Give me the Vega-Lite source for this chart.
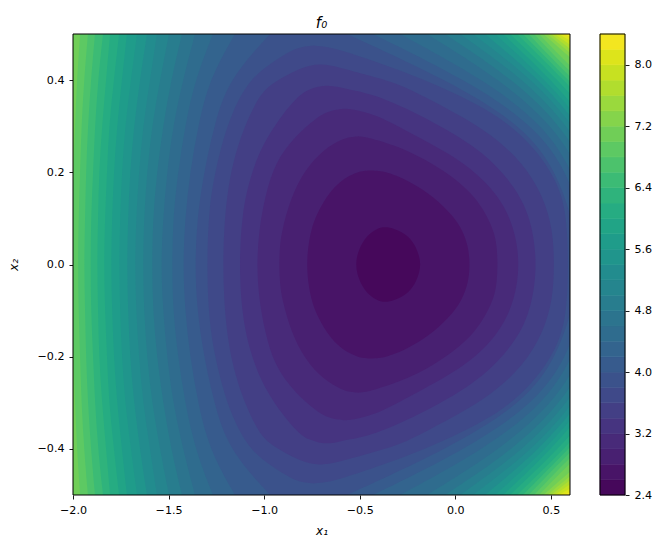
{"$schema":"https://vega.github.io/schema/vega-lite/v6.json","background":"white","autosize":{"type":"pad"},"padding":{"left":7,"top":15,"right":0,"bottom":0},"config":{"view":{"stroke":null},"font":"DejaVu Sans","axis":{"labelFont":"DejaVu Sans","titleFont":"DejaVu Sans","labelFontSize":11.1,"titleFontSize":12,"labelColor":"black","titleColor":"black","tickColor":"black","domainColor":"black","tickSize":4,"tickWidth":0.9,"grid":false,"domain":false,"titleFontWeight":"normal","labelPadding":5,"labelFlush":false}},"spacing":28,"hconcat":[{"width":497,"height":461,"title":{"text":"f₀","font":"DejaVu Sans","fontSize":15,"fontStyle":"italic","fontWeight":"normal","color":"black","offset":3},"layer":[{"data":{"values":[
{"m":8.3,"y":-0.5,"a":-2.1,"b":0.7},{"m":8.3,"y":0.5,"a":-2.1,"b":0.7},
{"m":8.1,"y":-0.5,"a":-2.1,"b":0.563},{"m":8.1,"y":-0.4,"a":-2.1,"b":1.18},{"m":8.1,"y":-0.3,"a":-2.1,"b":1.8},{"m":8.1,"y":-0.2,"a":-2.1,"b":2.0},{"m":8.1,"y":-0.1,"a":-2.1,"b":2.1},{"m":8.1,"y":0,"a":-2.1,"b":2.2},{"m":8.1,"y":0.1,"a":-2.1,"b":2.1},{"m":8.1,"y":0.2,"a":-2.1,"b":2.0},{"m":8.1,"y":0.3,"a":-2.1,"b":1.8},{"m":8.1,"y":0.4,"a":-2.1,"b":1.18},{"m":8.1,"y":0.5,"a":-2.1,"b":0.563},
{"m":7.9,"y":-0.5,"a":-2.1,"b":0.54},{"m":7.9,"y":-0.4,"a":-2.1,"b":0.97},{"m":7.9,"y":-0.3,"a":-2.1,"b":1.4},{"m":7.9,"y":-0.2,"a":-2.1,"b":1.6},{"m":7.9,"y":-0.1,"a":-2.1,"b":1.7},{"m":7.9,"y":0,"a":-2.1,"b":1.8},{"m":7.9,"y":0.1,"a":-2.1,"b":1.7},{"m":7.9,"y":0.2,"a":-2.1,"b":1.6},{"m":7.9,"y":0.3,"a":-2.1,"b":1.4},{"m":7.9,"y":0.4,"a":-2.1,"b":0.97},{"m":7.9,"y":0.5,"a":-2.1,"b":0.54},
{"m":7.7,"y":-0.5,"a":-2.1,"b":0.519},{"m":7.7,"y":-0.4,"a":-2.1,"b":0.87},{"m":7.7,"y":-0.3,"a":-2.1,"b":1.25},{"m":7.7,"y":-0.2,"a":-2.1,"b":1.45},{"m":7.7,"y":-0.1,"a":-2.1,"b":1.55},{"m":7.7,"y":0,"a":-2.1,"b":1.6},{"m":7.7,"y":0.1,"a":-2.1,"b":1.55},{"m":7.7,"y":0.2,"a":-2.1,"b":1.45},{"m":7.7,"y":0.3,"a":-2.1,"b":1.25},{"m":7.7,"y":0.4,"a":-2.1,"b":0.87},{"m":7.7,"y":0.5,"a":-2.1,"b":0.519},
{"m":7.5,"y":-0.5,"a":-2.1,"b":0.501},{"m":7.5,"y":-0.4,"a":-2.1,"b":0.81},{"m":7.5,"y":-0.3,"a":-2.1,"b":1.15},{"m":7.5,"y":-0.2,"a":-2.1,"b":1.35},{"m":7.5,"y":-0.1,"a":-2.1,"b":1.45},{"m":7.5,"y":0,"a":-2.1,"b":1.5},{"m":7.5,"y":0.1,"a":-2.1,"b":1.45},{"m":7.5,"y":0.2,"a":-2.1,"b":1.35},{"m":7.5,"y":0.3,"a":-2.1,"b":1.15},{"m":7.5,"y":0.4,"a":-2.1,"b":0.81},{"m":7.5,"y":0.5,"a":-2.1,"b":0.501},
{"m":7.3,"y":-0.5,"a":-2.1,"b":0.482},{"m":7.3,"y":-0.4,"a":-2.1,"b":0.77},{"m":7.3,"y":-0.3,"a":-2.1,"b":1.1},{"m":7.3,"y":-0.2,"a":-2.1,"b":1.3},{"m":7.3,"y":-0.1,"a":-2.1,"b":1.4},{"m":7.3,"y":0,"a":-2.1,"b":1.45},{"m":7.3,"y":0.1,"a":-2.1,"b":1.4},{"m":7.3,"y":0.2,"a":-2.1,"b":1.3},{"m":7.3,"y":0.3,"a":-2.1,"b":1.1},{"m":7.3,"y":0.4,"a":-2.1,"b":0.77},{"m":7.3,"y":0.5,"a":-2.1,"b":0.482},
{"m":7.1,"y":-0.5,"a":-2.0,"b":0.461},{"m":7.1,"y":-0.4,"a":-2.016,"b":0.734},{"m":7.1,"y":-0.3,"a":-2.021,"b":1.05},{"m":7.1,"y":-0.2,"a":-2.026,"b":1.25},{"m":7.1,"y":-0.1,"a":-2.03,"b":1.35},{"m":7.1,"y":0,"a":-2.04,"b":1.4},{"m":7.1,"y":0.1,"a":-2.03,"b":1.35},{"m":7.1,"y":0.2,"a":-2.026,"b":1.25},{"m":7.1,"y":0.3,"a":-2.021,"b":1.05},{"m":7.1,"y":0.4,"a":-2.016,"b":0.734},{"m":7.1,"y":0.5,"a":-2.0,"b":0.461},
{"m":6.9,"y":-0.5,"a":-1.963,"b":0.438},{"m":6.9,"y":-0.4,"a":-1.979,"b":0.67},{"m":6.9,"y":-0.3,"a":-1.99,"b":0.97},{"m":6.9,"y":-0.2,"a":-1.997,"b":1.2},{"m":6.9,"y":-0.1,"a":-2.003,"b":1.3},{"m":6.9,"y":0,"a":-2.005,"b":1.35},{"m":6.9,"y":0.1,"a":-2.003,"b":1.3},{"m":6.9,"y":0.2,"a":-1.997,"b":1.2},{"m":6.9,"y":0.3,"a":-1.99,"b":0.97},{"m":6.9,"y":0.4,"a":-1.979,"b":0.67},{"m":6.9,"y":0.5,"a":-1.963,"b":0.438},
{"m":6.7,"y":-0.5,"a":-1.922,"b":0.412},{"m":6.7,"y":-0.4,"a":-1.942,"b":0.64},{"m":6.7,"y":-0.3,"a":-1.956,"b":0.92},{"m":6.7,"y":-0.2,"a":-1.963,"b":1.12},{"m":6.7,"y":-0.1,"a":-1.971,"b":1.24},{"m":6.7,"y":0,"a":-1.974,"b":1.3},{"m":6.7,"y":0.1,"a":-1.971,"b":1.24},{"m":6.7,"y":0.2,"a":-1.963,"b":1.12},{"m":6.7,"y":0.3,"a":-1.956,"b":0.92},{"m":6.7,"y":0.4,"a":-1.942,"b":0.64},{"m":6.7,"y":0.5,"a":-1.922,"b":0.412},
{"m":6.5,"y":-0.5,"a":-1.885,"b":0.383},{"m":6.5,"y":-0.4,"a":-1.906,"b":0.615},{"m":6.5,"y":-0.3,"a":-1.922,"b":0.87},{"m":6.5,"y":-0.2,"a":-1.932,"b":1.05},{"m":6.5,"y":-0.1,"a":-1.937,"b":1.17},{"m":6.5,"y":0,"a":-1.942,"b":1.22},{"m":6.5,"y":0.1,"a":-1.937,"b":1.17},{"m":6.5,"y":0.2,"a":-1.932,"b":1.05},{"m":6.5,"y":0.3,"a":-1.922,"b":0.87},{"m":6.5,"y":0.4,"a":-1.906,"b":0.615},{"m":6.5,"y":0.5,"a":-1.885,"b":0.383},
{"m":6.3,"y":-0.5,"a":-1.843,"b":0.354},{"m":6.3,"y":-0.4,"a":-1.869,"b":0.59},{"m":6.3,"y":-0.3,"a":-1.885,"b":0.83},{"m":6.3,"y":-0.2,"a":-1.895,"b":1.0},{"m":6.3,"y":-0.1,"a":-1.906,"b":1.11},{"m":6.3,"y":0,"a":-1.908,"b":1.16},{"m":6.3,"y":0.1,"a":-1.906,"b":1.11},{"m":6.3,"y":0.2,"a":-1.895,"b":1.0},{"m":6.3,"y":0.3,"a":-1.885,"b":0.83},{"m":6.3,"y":0.4,"a":-1.869,"b":0.59},{"m":6.3,"y":0.5,"a":-1.843,"b":0.354},
{"m":6.1,"y":-0.5,"a":-1.806,"b":0.323},{"m":6.1,"y":-0.4,"a":-1.827,"b":0.57},{"m":6.1,"y":-0.3,"a":-1.848,"b":0.79},{"m":6.1,"y":-0.2,"a":-1.864,"b":0.96},{"m":6.1,"y":-0.1,"a":-1.869,"b":1.07},{"m":6.1,"y":0,"a":-1.874,"b":1.12},{"m":6.1,"y":0.1,"a":-1.869,"b":1.07},{"m":6.1,"y":0.2,"a":-1.864,"b":0.96},{"m":6.1,"y":0.3,"a":-1.848,"b":0.79},{"m":6.1,"y":0.4,"a":-1.827,"b":0.57},{"m":6.1,"y":0.5,"a":-1.806,"b":0.323},
{"m":5.9,"y":-0.5,"a":-1.759,"b":0.286},{"m":5.9,"y":-0.4,"a":-1.786,"b":0.54},{"m":5.9,"y":-0.3,"a":-1.812,"b":0.75},{"m":5.9,"y":-0.2,"a":-1.822,"b":0.92},{"m":5.9,"y":-0.1,"a":-1.833,"b":1.03},{"m":5.9,"y":0,"a":-1.838,"b":1.08},{"m":5.9,"y":0.1,"a":-1.833,"b":1.03},{"m":5.9,"y":0.2,"a":-1.822,"b":0.92},{"m":5.9,"y":0.3,"a":-1.812,"b":0.75},{"m":5.9,"y":0.4,"a":-1.786,"b":0.54},{"m":5.9,"y":0.5,"a":-1.759,"b":0.286},
{"m":5.7,"y":-0.5,"a":-1.718,"b":0.25},{"m":5.7,"y":-0.4,"a":-1.744,"b":0.505},{"m":5.7,"y":-0.3,"a":-1.77,"b":0.71},{"m":5.7,"y":-0.2,"a":-1.786,"b":0.88},{"m":5.7,"y":-0.1,"a":-1.796,"b":0.99},{"m":5.7,"y":0,"a":-1.801,"b":1.04},{"m":5.7,"y":0.1,"a":-1.796,"b":0.99},{"m":5.7,"y":0.2,"a":-1.786,"b":0.88},{"m":5.7,"y":0.3,"a":-1.77,"b":0.71},{"m":5.7,"y":0.4,"a":-1.744,"b":0.505},{"m":5.7,"y":0.5,"a":-1.718,"b":0.25},
{"m":5.5,"y":-0.5,"a":-1.665,"b":0.208},{"m":5.5,"y":-0.4,"a":-1.697,"b":0.475},{"m":5.5,"y":-0.3,"a":-1.728,"b":0.68},{"m":5.5,"y":-0.2,"a":-1.744,"b":0.84},{"m":5.5,"y":-0.1,"a":-1.754,"b":0.95},{"m":5.5,"y":0,"a":-1.759,"b":1.0},{"m":5.5,"y":0.1,"a":-1.754,"b":0.95},{"m":5.5,"y":0.2,"a":-1.744,"b":0.84},{"m":5.5,"y":0.3,"a":-1.728,"b":0.68},{"m":5.5,"y":0.4,"a":-1.697,"b":0.475},{"m":5.5,"y":0.5,"a":-1.665,"b":0.208},
{"m":5.3,"y":-0.5,"a":-1.613,"b":0.155},{"m":5.3,"y":-0.4,"a":-1.65,"b":0.445},{"m":5.3,"y":-0.3,"a":-1.681,"b":0.65},{"m":5.3,"y":-0.2,"a":-1.702,"b":0.81},{"m":5.3,"y":-0.1,"a":-1.712,"b":0.91},{"m":5.3,"y":0,"a":-1.718,"b":0.97},{"m":5.3,"y":0.1,"a":-1.712,"b":0.91},{"m":5.3,"y":0.2,"a":-1.702,"b":0.81},{"m":5.3,"y":0.3,"a":-1.681,"b":0.65},{"m":5.3,"y":0.4,"a":-1.65,"b":0.445},{"m":5.3,"y":0.5,"a":-1.613,"b":0.155},
{"m":5.1,"y":-0.5,"a":-1.561,"b":0.093},{"m":5.1,"y":-0.4,"a":-1.597,"b":0.41},{"m":5.1,"y":-0.3,"a":-1.634,"b":0.62},{"m":5.1,"y":-0.2,"a":-1.655,"b":0.78},{"m":5.1,"y":-0.1,"a":-1.67,"b":0.87},{"m":5.1,"y":0,"a":-1.676,"b":0.94},{"m":5.1,"y":0.1,"a":-1.67,"b":0.87},{"m":5.1,"y":0.2,"a":-1.655,"b":0.78},{"m":5.1,"y":0.3,"a":-1.634,"b":0.62},{"m":5.1,"y":0.4,"a":-1.597,"b":0.41},{"m":5.1,"y":0.5,"a":-1.561,"b":0.093},
{"m":4.9,"y":-0.5,"a":-1.498,"b":0.025},{"m":4.9,"y":-0.4,"a":-1.545,"b":0.365},{"m":4.9,"y":-0.3,"a":-1.587,"b":0.59},{"m":4.9,"y":-0.2,"a":-1.613,"b":0.74},{"m":4.9,"y":-0.1,"a":-1.629,"b":0.83},{"m":4.9,"y":0,"a":-1.634,"b":0.9},{"m":4.9,"y":0.1,"a":-1.629,"b":0.83},{"m":4.9,"y":0.2,"a":-1.613,"b":0.74},{"m":4.9,"y":0.3,"a":-1.587,"b":0.59},{"m":4.9,"y":0.4,"a":-1.545,"b":0.365},{"m":4.9,"y":0.5,"a":-1.498,"b":0.025},
{"m":4.7,"y":-0.5,"a":-1.43,"b":-0.054},{"m":4.7,"y":-0.4,"a":-1.487,"b":0.31},{"m":4.7,"y":-0.3,"a":-1.529,"b":0.555},{"m":4.7,"y":-0.2,"a":-1.561,"b":0.7},{"m":4.7,"y":-0.1,"a":-1.582,"b":0.79},{"m":4.7,"y":0,"a":-1.587,"b":0.86},{"m":4.7,"y":0.1,"a":-1.582,"b":0.79},{"m":4.7,"y":0.2,"a":-1.561,"b":0.7},{"m":4.7,"y":0.3,"a":-1.529,"b":0.555},{"m":4.7,"y":0.4,"a":-1.487,"b":0.31},{"m":4.7,"y":0.5,"a":-1.43,"b":-0.054},
{"m":4.5,"y":-0.5,"a":-1.362,"b":-0.148},{"m":4.5,"y":-0.4,"a":-1.425,"b":0.24},{"m":4.5,"y":-0.3,"a":-1.477,"b":0.515},{"m":4.5,"y":-0.2,"a":-1.508,"b":0.66},{"m":4.5,"y":-0.1,"a":-1.529,"b":0.75},{"m":4.5,"y":0,"a":-1.54,"b":0.82},{"m":4.5,"y":0.1,"a":-1.529,"b":0.75},{"m":4.5,"y":0.2,"a":-1.508,"b":0.66},{"m":4.5,"y":0.3,"a":-1.477,"b":0.515},{"m":4.5,"y":0.4,"a":-1.425,"b":0.24},{"m":4.5,"y":0.5,"a":-1.362,"b":-0.148},
{"m":4.3,"y":-0.5,"a":-1.268,"b":-0.289},{"m":4.3,"y":-0.4,"a":-1.362,"b":0.155},{"m":4.3,"y":-0.3,"a":-1.414,"b":0.47},{"m":4.3,"y":-0.2,"a":-1.451,"b":0.615},{"m":4.3,"y":-0.1,"a":-1.477,"b":0.71},{"m":4.3,"y":0,"a":-1.482,"b":0.77},{"m":4.3,"y":0.1,"a":-1.477,"b":0.71},{"m":4.3,"y":0.2,"a":-1.451,"b":0.615},{"m":4.3,"y":0.3,"a":-1.414,"b":0.47},{"m":4.3,"y":0.4,"a":-1.362,"b":0.155},{"m":4.3,"y":0.5,"a":-1.268,"b":-0.289},
{"m":4.1,"y":-0.5,"a":-1.153,"b":-0.431},{"m":4.1,"y":-0.4,"a":-1.289,"b":0.06},{"m":4.1,"y":-0.3,"a":-1.346,"b":0.42},{"m":4.1,"y":-0.2,"a":-1.388,"b":0.585},{"m":4.1,"y":-0.1,"a":-1.414,"b":0.66},{"m":4.1,"y":0,"a":-1.425,"b":0.72},{"m":4.1,"y":0.1,"a":-1.414,"b":0.66},{"m":4.1,"y":0.2,"a":-1.388,"b":0.585},{"m":4.1,"y":0.3,"a":-1.346,"b":0.42},{"m":4.1,"y":0.4,"a":-1.289,"b":0.06},{"m":4.1,"y":0.5,"a":-1.153,"b":-0.431},
{"m":3.9,"y":-0.5,"a":-0.969,"b":-0.567},{"m":3.9,"y":-0.4,"a":-1.189,"b":-0.04},{"m":3.9,"y":-0.3,"a":-1.262,"b":0.36},{"m":3.9,"y":-0.2,"a":-1.315,"b":0.53},{"m":3.9,"y":-0.1,"a":-1.351,"b":0.61},{"m":3.9,"y":0,"a":-1.362,"b":0.66},{"m":3.9,"y":0.1,"a":-1.351,"b":0.61},{"m":3.9,"y":0.2,"a":-1.315,"b":0.53},{"m":3.9,"y":0.3,"a":-1.262,"b":0.36},{"m":3.9,"y":0.4,"a":-1.189,"b":-0.04},{"m":3.9,"y":0.5,"a":-0.969,"b":-0.567},
{"m":3.7,"y":-0.475,"a":-0.743,"b":-0.743},{"m":3.7,"y":-0.4726,"a":-0.799,"b":-0.676},{"m":3.7,"y":-0.4655,"a":-0.854,"b":-0.603},{"m":3.7,"y":-0.437,"a":-0.965,"b":-0.394},{"m":3.7,"y":-0.4,"a":-1.08,"b":-0.15},{"m":3.7,"y":-0.329,"a":-1.17,"b":0.217},{"m":3.7,"y":-0.257,"a":-1.225,"b":0.408},{"m":3.7,"y":-0.184,"a":-1.265,"b":0.53},{"m":3.7,"y":-0.112,"a":-1.29,"b":0.583},{"m":3.7,"y":0,"a":-1.3,"b":0.591},{"m":3.7,"y":0.112,"a":-1.29,"b":0.583},{"m":3.7,"y":0.184,"a":-1.265,"b":0.53},{"m":3.7,"y":0.257,"a":-1.225,"b":0.408},{"m":3.7,"y":0.329,"a":-1.17,"b":0.217},{"m":3.7,"y":0.4,"a":-1.08,"b":-0.15},{"m":3.7,"y":0.437,"a":-0.965,"b":-0.394},{"m":3.7,"y":0.4655,"a":-0.854,"b":-0.603},{"m":3.7,"y":0.4726,"a":-0.799,"b":-0.676},{"m":3.7,"y":0.475,"a":-0.743,"b":-0.743},
{"m":3.5,"y":-0.434,"a":-0.708,"b":-0.708},{"m":3.5,"y":-0.432,"a":-0.759,"b":-0.65},{"m":3.5,"y":-0.425,"a":-0.81,"b":-0.585},{"m":3.5,"y":-0.415,"a":-0.86,"b":-0.5},{"m":3.5,"y":-0.393,"a":-0.96,"b":-0.3},{"m":3.5,"y":-0.365,"a":-1.03,"b":-0.167},{"m":3.5,"y":-0.293,"a":-1.11,"b":0.164},{"m":3.5,"y":-0.22,"a":-1.165,"b":0.356},{"m":3.5,"y":-0.148,"a":-1.195,"b":0.46},{"m":3.5,"y":-0.076,"a":-1.21,"b":0.51},{"m":3.5,"y":0,"a":-1.215,"b":0.518},{"m":3.5,"y":0.076,"a":-1.21,"b":0.51},{"m":3.5,"y":0.148,"a":-1.195,"b":0.46},{"m":3.5,"y":0.22,"a":-1.165,"b":0.356},{"m":3.5,"y":0.293,"a":-1.11,"b":0.164},{"m":3.5,"y":0.365,"a":-1.03,"b":-0.167},{"m":3.5,"y":0.393,"a":-0.96,"b":-0.3},{"m":3.5,"y":0.415,"a":-0.86,"b":-0.5},{"m":3.5,"y":0.425,"a":-0.81,"b":-0.585},{"m":3.5,"y":0.432,"a":-0.759,"b":-0.65},{"m":3.5,"y":0.434,"a":-0.708,"b":-0.708},
{"m":3.3,"y":-0.388,"a":-0.673,"b":-0.673},{"m":3.3,"y":-0.386,"a":-0.719,"b":-0.62},{"m":3.3,"y":-0.38,"a":-0.765,"b":-0.56},{"m":3.3,"y":-0.37,"a":-0.81,"b":-0.43},{"m":3.3,"y":-0.329,"a":-0.9,"b":-0.202},{"m":3.3,"y":-0.257,"a":-1.015,"b":0.112},{"m":3.3,"y":-0.184,"a":-1.077,"b":0.286},{"m":3.3,"y":-0.112,"a":-1.115,"b":0.391},{"m":3.3,"y":0,"a":-1.132,"b":0.434},{"m":3.3,"y":0.112,"a":-1.115,"b":0.391},{"m":3.3,"y":0.184,"a":-1.077,"b":0.286},{"m":3.3,"y":0.257,"a":-1.015,"b":0.112},{"m":3.3,"y":0.329,"a":-0.9,"b":-0.202},{"m":3.3,"y":0.37,"a":-0.81,"b":-0.43},{"m":3.3,"y":0.38,"a":-0.765,"b":-0.56},{"m":3.3,"y":0.386,"a":-0.719,"b":-0.62},{"m":3.3,"y":0.388,"a":-0.673,"b":-0.673},
{"m":3.1,"y":-0.338,"a":-0.577,"b":-0.577},{"m":3.1,"y":-0.336,"a":-0.623,"b":-0.53},{"m":3.1,"y":-0.331,"a":-0.669,"b":-0.48},{"m":3.1,"y":-0.32,"a":-0.72,"b":-0.39},{"m":3.1,"y":-0.278,"a":-0.84,"b":-0.202},{"m":3.1,"y":-0.22,"a":-0.945,"b":0.06},{"m":3.1,"y":-0.148,"a":-0.995,"b":0.234},{"m":3.1,"y":-0.076,"a":-1.027,"b":0.312},{"m":3.1,"y":0,"a":-1.039,"b":0.338},{"m":3.1,"y":0.076,"a":-1.027,"b":0.312},{"m":3.1,"y":0.148,"a":-0.995,"b":0.234},{"m":3.1,"y":0.22,"a":-0.945,"b":0.06},{"m":3.1,"y":0.278,"a":-0.84,"b":-0.202},{"m":3.1,"y":0.32,"a":-0.72,"b":-0.39},{"m":3.1,"y":0.331,"a":-0.669,"b":-0.48},{"m":3.1,"y":0.336,"a":-0.623,"b":-0.53},{"m":3.1,"y":0.338,"a":-0.577,"b":-0.577},
{"m":2.9,"y":-0.278,"a":-0.507,"b":-0.507},{"m":2.9,"y":-0.2766,"a":-0.549,"b":-0.47},{"m":2.9,"y":-0.2725,"a":-0.59,"b":-0.43},{"m":2.9,"y":-0.25,"a":-0.69,"b":-0.254},{"m":2.9,"y":-0.206,"a":-0.785,"b":-0.063},{"m":2.9,"y":-0.148,"a":-0.858,"b":0.112},{"m":2.9,"y":-0.076,"a":-0.906,"b":0.202},{"m":2.9,"y":-0.04,"a":-0.918,"b":0.217},{"m":2.9,"y":0,"a":-0.922,"b":0.222},{"m":2.9,"y":0.04,"a":-0.918,"b":0.217},{"m":2.9,"y":0.076,"a":-0.906,"b":0.202},{"m":2.9,"y":0.148,"a":-0.858,"b":0.112},{"m":2.9,"y":0.206,"a":-0.785,"b":-0.063},{"m":2.9,"y":0.25,"a":-0.69,"b":-0.254},{"m":2.9,"y":0.2725,"a":-0.59,"b":-0.43},{"m":2.9,"y":0.2766,"a":-0.549,"b":-0.47},{"m":2.9,"y":0.278,"a":-0.507,"b":-0.507},
{"m":2.7,"y":-0.204,"a":-0.446,"b":-0.446},{"m":2.7,"y":-0.203,"a":-0.479,"b":-0.4},{"m":2.7,"y":-0.2,"a":-0.512,"b":-0.36},{"m":2.7,"y":-0.19,"a":-0.567,"b":-0.29},{"m":2.7,"y":-0.175,"a":-0.616,"b":-0.22},{"m":2.7,"y":-0.148,"a":-0.674,"b":-0.115},{"m":2.7,"y":-0.105,"a":-0.73,"b":-0.01},{"m":2.7,"y":-0.076,"a":-0.753,"b":0.035},{"m":2.7,"y":-0.04,"a":-0.77,"b":0.068},{"m":2.7,"y":0,"a":-0.777,"b":0.077},{"m":2.7,"y":0.04,"a":-0.77,"b":0.068},{"m":2.7,"y":0.076,"a":-0.753,"b":0.035},{"m":2.7,"y":0.105,"a":-0.73,"b":-0.01},{"m":2.7,"y":0.148,"a":-0.674,"b":-0.115},{"m":2.7,"y":0.175,"a":-0.616,"b":-0.22},{"m":2.7,"y":0.19,"a":-0.567,"b":-0.29},{"m":2.7,"y":0.2,"a":-0.512,"b":-0.36},{"m":2.7,"y":0.203,"a":-0.479,"b":-0.4},{"m":2.7,"y":0.204,"a":-0.446,"b":-0.446},
{"m":2.5,"y":-0.081,"a":-0.368,"b":-0.368},{"m":2.5,"y":-0.0805,"a":-0.39,"b":-0.345},{"m":2.5,"y":-0.076,"a":-0.415,"b":-0.31},{"m":2.5,"y":-0.065,"a":-0.457,"b":-0.253},{"m":2.5,"y":-0.043,"a":-0.493,"b":-0.211},{"m":2.5,"y":-0.02,"a":-0.514,"b":-0.19},{"m":2.5,"y":0,"a":-0.52,"b":-0.181},{"m":2.5,"y":0.02,"a":-0.514,"b":-0.19},{"m":2.5,"y":0.043,"a":-0.493,"b":-0.211},{"m":2.5,"y":0.065,"a":-0.457,"b":-0.253},{"m":2.5,"y":0.076,"a":-0.415,"b":-0.31},{"m":2.5,"y":0.0805,"a":-0.39,"b":-0.345},{"m":2.5,"y":0.081,"a":-0.368,"b":-0.368}
]},"mark":{"type":"area","orient":"horizontal","interpolate":"basis","clip":true},"encoding":{"y":{"field":"y","type":"quantitative","scale":{"domain":[-0.5,0.5],"nice":false,"zero":false},"axis":{"title":"x₂","titleFontStyle":"italic","values":[-0.4,-0.2,0,0.2,0.4],"labelExpr":"replace(format(datum.value,'.1f'),'-','−')","titlePadding":17}},"x":{"field":"a","type":"quantitative","scale":{"domain":[-2,0.6],"nice":false,"zero":false},"axis":{"title":"x₁","titleFontStyle":"italic","values":[-2,-1.5,-1,-0.5,0,0.5],"labelExpr":"replace(format(datum.value,'.1f'),'-','−')","titlePadding":10}},"x2":{"field":"b"},"color":{"field":"m","type":"quantitative","legend":null,"scale":{"scheme":"viridis","domain":[2.4,8.4]}},"detail":{"field":"m"}}},
{"data":{"values":[{"p":-2,"q":0.6,"r":-0.5,"s":0.5}]},"mark":{"type":"rect","fill":null,"stroke":"black","strokeWidth":1},"encoding":{"x":{"field":"p","type":"quantitative","scale":{"domain":[-2,0.6],"nice":false,"zero":false}},"x2":{"field":"q"},"y":{"field":"r","type":"quantitative","scale":{"domain":[-0.5,0.5],"nice":false,"zero":false}},"y2":{"field":"s"}}}]},
{"width":25,"height":461,"layer":[{"data":{"values":[{"lo":2.4,"hi":2.6,"m":2.5},{"lo":2.6,"hi":2.8,"m":2.7},{"lo":2.8,"hi":3.0,"m":2.9},{"lo":3.0,"hi":3.2,"m":3.1},{"lo":3.2,"hi":3.4,"m":3.3},{"lo":3.4,"hi":3.6,"m":3.5},{"lo":3.6,"hi":3.8,"m":3.7},{"lo":3.8,"hi":4.0,"m":3.9},{"lo":4.0,"hi":4.2,"m":4.1},{"lo":4.2,"hi":4.4,"m":4.3},{"lo":4.4,"hi":4.6,"m":4.5},{"lo":4.6,"hi":4.8,"m":4.7},{"lo":4.8,"hi":5.0,"m":4.9},{"lo":5.0,"hi":5.2,"m":5.1},{"lo":5.2,"hi":5.4,"m":5.3},{"lo":5.4,"hi":5.6,"m":5.5},{"lo":5.6,"hi":5.8,"m":5.7},{"lo":5.8,"hi":6.0,"m":5.9},{"lo":6.0,"hi":6.2,"m":6.1},{"lo":6.2,"hi":6.4,"m":6.3},{"lo":6.4,"hi":6.6,"m":6.5},{"lo":6.6,"hi":6.8,"m":6.7},{"lo":6.8,"hi":7.0,"m":6.9},{"lo":7.0,"hi":7.2,"m":7.1},{"lo":7.2,"hi":7.4,"m":7.3},{"lo":7.4,"hi":7.6,"m":7.5},{"lo":7.6,"hi":7.8,"m":7.7},{"lo":7.8,"hi":8.0,"m":7.9},{"lo":8.0,"hi":8.2,"m":8.1},{"lo":8.2,"hi":8.4,"m":8.3}]},"mark":{"type":"rect","strokeWidth":0.6},"encoding":{"y":{"field":"lo","type":"quantitative","scale":{"domain":[2.4,8.4],"nice":false,"zero":false},"axis":{"orient":"right","title":null,"values":[2.4,3.2,4.0,4.8,5.6,6.4,7.2,8.0],"format":".1f"}},"y2":{"field":"hi"},"color":{"field":"m","type":"quantitative","legend":null,"scale":{"scheme":"viridis","domain":[2.4,8.4]}},"stroke":{"field":"m","type":"quantitative","legend":null,"scale":{"scheme":"viridis","domain":[2.4,8.4]}}}},
{"data":{"values":[{"r":2.4,"s":8.4}]},"mark":{"type":"rect","fill":null,"stroke":"black","strokeWidth":1},"encoding":{"y":{"field":"r","type":"quantitative","scale":{"domain":[2.4,8.4],"nice":false,"zero":false}},"y2":{"field":"s"}}}]}]}
